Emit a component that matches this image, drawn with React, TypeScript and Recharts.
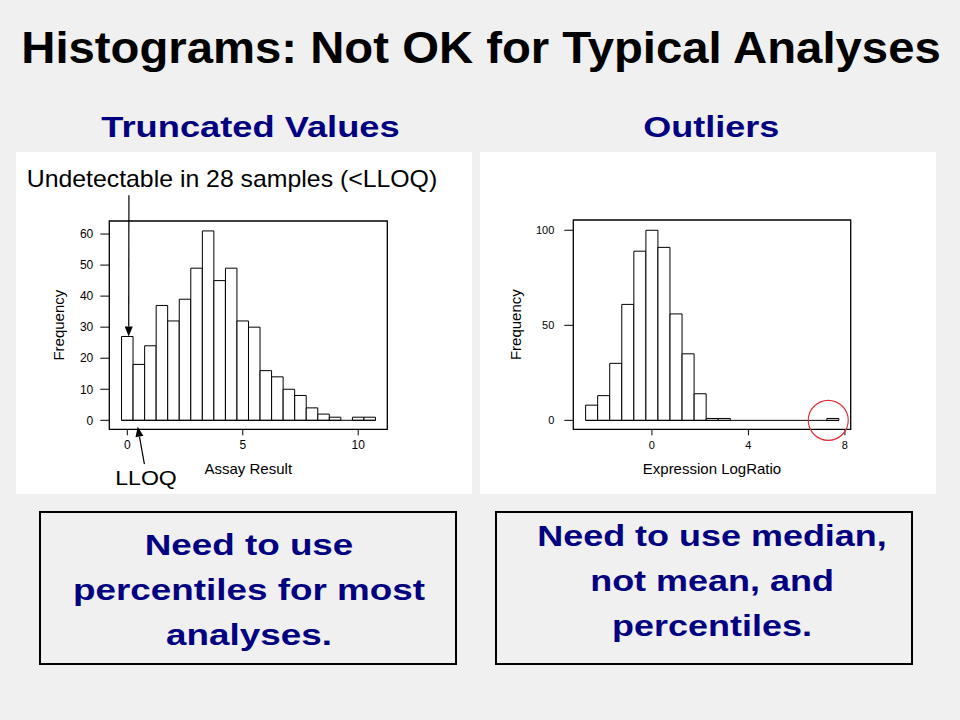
import React from 'react';
import { BarChart, Bar, XAxis, YAxis, ReferenceArea, ReferenceLine, ReferenceDot } from 'recharts';

// Truncated values histogram (Assay Result)
const assayBins = [0, 0.5, 1, 1.5, 2, 2.5, 3, 3.5, 4, 4.5, 5, 5.5, 6, 6.5, 7, 7.5, 8, 8.5, 9, 9.5, 10, 10.5];
const assayCounts = [27, 18, 24, 37, 32, 39, 49, 61, 45, 49, 32, 30, 16, 14, 10, 8, 4, 2, 1, 0, 1, 1];
const assayTicksX = [0, 5, 10];
const assayTicksY = [0, 10, 20, 30, 40, 50, 60];

// Outliers histogram (Expression LogRatio)
const logBins = [-2.5, -2, -1.5, -1, -0.5, 0, 0.5, 1, 1.5, 2, 2.5, 3, 3.5, 4, 4.5, 5, 5.5, 6, 6.5, 7, 7.5];
const logCounts = [8, 13, 30, 61, 89, 100, 91, 56, 35, 14, 1, 1, 0, 0, 0, 0, 0, 0, 0, 0, 1];
const logTicksX = [0, 4, 8];
const logTicksY = [0, 50, 100];

const FONT = '"Liberation Sans", Arial, Helvetica, sans-serif';
const NAVY = '#000080';

const Arrow = (props: any) => {
  const { x1, y1, x2, y2 } = props;
  const a = Math.atan2(y2 - y1, x2 - x1);
  const len = 10;
  const half = 4;
  const bx = x2 - len * Math.cos(a);
  const by = y2 - len * Math.sin(a);
  const p1 = `${bx + half * Math.sin(a)},${by - half * Math.cos(a)}`;
  const p2 = `${bx - half * Math.sin(a)},${by + half * Math.cos(a)}`;
  return (
    <g>
      <line x1={x1} y1={y1} x2={bx} y2={by} stroke="#000" strokeWidth={1.2} />
      <polygon points={`${x2},${y2} ${p1} ${p2}`} fill="#000" />
    </g>
  );
};

type HistProps = {
  bins: number[];
  counts: number[];
  binWidth: number;
  xDomain: [number, number];
  yDomain: [number, number];
  xTicks: number[];
  yTicks: number[];
  xLabel: string;
  left: number;
  width: number;
  margin: { top: number; right: number; bottom: number; left: number };
  yAxisWidth: number;
  tickFont: number;
  yTickMargin: number;
  xTickMargin: number;
  children?: React.ReactNode;
};

function Histogram(p: HistProps) {
  const data = p.bins.map((bin, i) => ({ bin, count: p.counts[i] }));
  const plotW = p.width - p.margin.left - p.margin.right - p.yAxisWidth;
  const barPx = (p.binWidth * plotW) / (p.xDomain[1] - p.xDomain[0]) - 0.05;
  const half = p.binWidth / 2;
  const first = p.bins[0] - half;
  const last = p.bins[p.bins.length - 1] + half;
  return (
    <div style={{ position: 'absolute', left: p.left, top: 152 }}>
      <BarChart width={p.width} height={342} data={data} margin={p.margin}>
        <XAxis
          type="number"
          dataKey="bin"
          domain={p.xDomain}
          ticks={p.xTicks}
          interval={0}
          allowDataOverflow
          axisLine={false}
          tickLine={{ stroke: '#000' }}
          tickSize={6}
          tickMargin={p.xTickMargin}
          tick={{ fontSize: p.tickFont, fill: '#000' }}
          height={30}
          label={{ value: p.xLabel, position: 'bottom', offset: 4.3, fontSize: 15, fill: '#000' }}
        />
        <YAxis
          type="number"
          domain={p.yDomain}
          ticks={p.yTicks}
          interval={0}
          allowDataOverflow
          width={p.yAxisWidth}
          axisLine={false}
          tickLine={{ stroke: '#000' }}
          tickSize={9}
          tickMargin={p.yTickMargin}
          tick={{ fontSize: p.tickFont, fill: '#000' }}
          label={{ value: 'Frequency', angle: -90, position: 'center', fontSize: 15, fill: '#000' }}
        />
        <ReferenceArea
          x1={p.xDomain[0]}
          x2={p.xDomain[1]}
          y1={p.yDomain[0]}
          y2={p.yDomain[1]}
          fill="none"
          fillOpacity={0}
          stroke="#000"
          strokeWidth={1.3}
          ifOverflow="visible"
        />
        <ReferenceLine
          segment={[{ x: first, y: 0 }, { x: last, y: 0 }]}
          stroke="#000"
          strokeWidth={1}
          ifOverflow="visible"
        />
        <Bar
          dataKey="count"
          fill="#fff"
          stroke="#000"
          strokeWidth={1}
          barSize={barPx}
          isAnimationActive={false}
        />
        {p.children}
      </BarChart>
    </div>
  );
}

function SText(props: {
  x: number;
  y: number;
  size: number;
  sx: number;
  fill?: string;
  bold?: boolean;
  anchor?: 'start' | 'middle' | 'end';
  children: React.ReactNode;
}) {
  return (
    <text
      transform={`translate(${props.x},${props.y}) scale(${props.sx},1)`}
      textAnchor={props.anchor || 'middle'}
      fontSize={props.size}
      fontWeight={props.bold ? 'bold' : 'normal'}
      fill={props.fill || '#000'}
      fontFamily={FONT}
    >
      {props.children}
    </text>
  );
}

export default function App() {
  return (
    <div
      style={{
        position: 'absolute',
        left: 0,
        top: 0,
        width: 960,
        height: 720,
        overflow: 'hidden',
        fontFamily: FONT,
      }}
    >
      <svg width={960} height={720} style={{ position: 'absolute', left: 0, top: 0 }}>
        <rect x={0} y={0} width={960} height={720} fill="#f0f0f0" />
        <rect x={16} y={152} width={456} height={342} fill="#fff" />
        <rect x={480} y={152} width={456} height={342} fill="#fff" />
        <rect x={40} y={512} width={416} height={152} fill="none" stroke="#000" strokeWidth={2} />
        <rect x={496} y={512} width={416} height={152} fill="none" stroke="#000" strokeWidth={2} />

        <SText x={481} y={63.3} size={44} sx={1.075} bold>
          Histograms: Not OK for Typical Analyses
        </SText>
        <SText x={250.5} y={136.7} size={30} sx={1.21} bold fill={NAVY}>
          Truncated Values
        </SText>
        <SText x={711.2} y={136.7} size={30} sx={1.2} bold fill={NAVY}>
          Outliers
        </SText>

        <SText x={26.7} y={187} size={23} sx={1.08} anchor="start">
          Undetectable in 28 samples (&lt;LLOQ)
        </SText>
        <SText x={146} y={485} size={21} sx={1.1}>
          LLOQ
        </SText>

        <SText x={249} y={555} size={29} sx={1.27} bold fill={NAVY}>
          Need to use
        </SText>
        <SText x={249} y={600} size={29} sx={1.27} bold fill={NAVY}>
          percentiles for most
        </SText>
        <SText x={249} y={645} size={29} sx={1.27} bold fill={NAVY}>
          analyses.
        </SText>

        <SText x={712} y={546} size={29} sx={1.24} bold fill={NAVY}>
          Need to use median,
        </SText>
        <SText x={712} y={591} size={29} sx={1.24} bold fill={NAVY}>
          not mean, and
        </SText>
        <SText x={712} y={636} size={29} sx={1.24} bold fill={NAVY}>
          percentiles.
        </SText>
      </svg>

      <Histogram
        bins={assayBins}
        counts={assayCounts}
        binWidth={0.5}
        xDomain={[-0.78, 11.26]}
        yDomain={[-2.9, 64.2]}
        xTicks={assayTicksX}
        yTicks={assayTicksY}
        xLabel="Assay Result"
        left={0}
        width={472}
        margin={{ top: 69, right: 84.7, bottom: 34.7, left: 7.7 }}
        yAxisWidth={101.6}
        tickFont={12}
        yTickMargin={7}
        xTickMargin={5}
      >
        <ReferenceLine
          segment={[{ x: 0.07, y: 72.5 }, { x: 0.06, y: 27 }]}
          ifOverflow="visible"
          shape={Arrow}
        />
        <ReferenceLine
          segment={[{ x: 0.74, y: -14.1 }, { x: 0.45, y: -2.06 }]}
          ifOverflow="visible"
          shape={Arrow}
        />
      </Histogram>

      <Histogram
        bins={logBins}
        counts={logCounts}
        binWidth={0.5}
        xDomain={[-3.26, 8.24]}
        yDomain={[-4.7, 105.4]}
        xTicks={logTicksX}
        yTicks={logTicksY}
        xLabel="Expression LogRatio"
        left={440}
        width={496}
        margin={{ top: 68, right: 85.3, bottom: 34.7, left: 18.7 }}
        yAxisWidth={114.6}
        tickFont={11}
        yTickMargin={10}
        xTickMargin={6}
      >
        <ReferenceDot
          x={7.31}
          y={0}
          r={20}
          fill="none"
          stroke="#e0303a"
          strokeWidth={1.2}
          ifOverflow="visible"
        />
      </Histogram>
    </div>
  );
}
